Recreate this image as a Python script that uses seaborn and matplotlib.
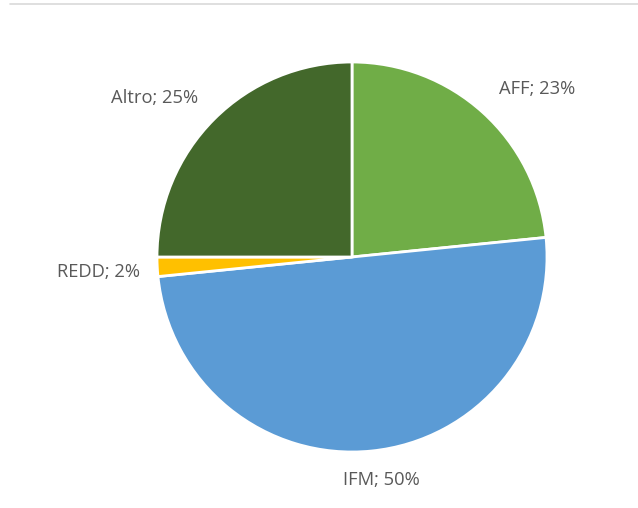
import matplotlib
matplotlib.use("Agg")
import matplotlib.pyplot as plt
import seaborn as sns
from matplotlib.lines import Line2D

sns.set_theme(style="white")
plt.rcParams['font.family'] = ['Open Sans', 'DejaVu Sans']

categories = ["AFF", "IFM", "REDD", "Altro"]
values = [23.4, 50.0, 1.6, 25.0]
value_labels = ["23%", "50%", "2%", "25%"]
colors = ["#70AD47", "#5B9BD5", "#FFC000", "#43682B"]
# label anchor positions (in pie-radius units)
label_pos = [(0.95, 0.86), (0.15, -1.145), (-1.30, -0.075), (-1.015, 0.815)]

W, H = 638, 508
fig = plt.figure(figsize=(W / 100, H / 100), dpi=100)
fig.patch.set_facecolor("white")

cx, cy, r = 352, 257, 195
ax = fig.add_axes([(cx - r) / W, (H - cy - r) / H, 2 * r / W, 2 * r / H])
ax.pie(values, colors=colors, startangle=90, counterclock=False,
       radius=1.0, wedgeprops=dict(edgecolor="white", linewidth=2))
ax.set_xlim(-1, 1)
ax.set_ylim(-1, 1)
ax.set_aspect("equal")
ax.axis("off")

for cat, lab, (lx, ly) in zip(categories, value_labels, label_pos):
    ax.text(lx, ly, f"{cat}; {lab}", ha="center", va="center",
            fontsize=13.2, color="#595959", clip_on=False)

fig.add_artist(Line2D([10 / W, 1.0], [1 - 3.5 / H, 1 - 3.5 / H],
                      transform=fig.transFigure, color="#D9D9D9", linewidth=1.2))

fig.savefig("out.png", dpi=100, facecolor="white")
